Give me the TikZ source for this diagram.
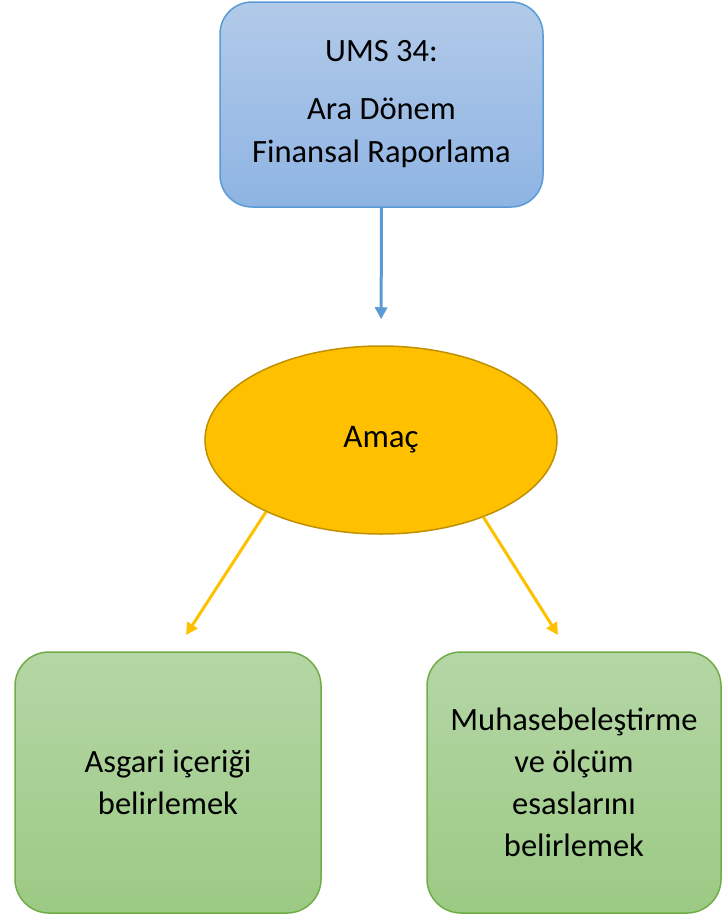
\documentclass[tikz,border=0pt]{standalone}
\usepackage{fontspec}
\setmainfont{Carlito}
\usetikzlibrary{shapes.geometric,arrows.meta}
\definecolor{blueline}{HTML}{5B9BD5}
\definecolor{bluetop}{HTML}{B2CAE9}
\definecolor{bluebot}{HTML}{8EB4E3}
\definecolor{goldfill}{HTML}{FFC000}
\definecolor{goldline}{HTML}{BF9000}
\definecolor{greenline}{HTML}{70AD47}
\definecolor{greentop}{HTML}{B5D6A6}
\definecolor{greenbot}{HTML}{9BCA84}
\tikzset{
  topbox/.style = {rectangle, rounded corners=32pt, draw=blueline,
                   line width=1.5pt, top color=bluetop, bottom color=bluebot,
                   minimum width=323pt, minimum height=205pt,
                   inner sep=0pt, align=center,
                   font=\fontsize{32.5}{43}\selectfont},
  goalnode/.style = {ellipse, draw=goldline, line width=1.5pt, fill=goldfill,
                     minimum width=352pt, minimum height=188pt,
                     inner sep=0pt, font=\fontsize{33}{39}\selectfont},
  leafbox/.style = {rectangle, rounded corners=34pt, draw=greenline,
                    line width=1.5pt, top color=greentop, bottom color=greenbot,
                    minimum width=#1, minimum height=261pt,
                    inner sep=0pt, align=center,
                    font=\fontsize{32.5}{42}\selectfont},
  leafbox/.default = 306pt,
  barrow/.style = {draw=blueline, line width=3pt,
                   -{Triangle[width=12pt,length=12pt]}},
  yarrow/.style = {draw=goldfill, line width=3pt,
                   -{Triangle[width=12pt,length=12pt]}}
}

\begin{document}
\begin{tikzpicture}[x=1pt,y=-1pt]
	\useasboundingbox (0,0) rectangle (722,914);

	% Standard
	\node[topbox] (ums) at (381.5,104.5) {UMS 34:\\[15pt] Ara Dönem\\ Finansal Raporlama};

	% Purpose
	\node[goalnode] (amac) at (381,440) {Amaç};

	% Objectives
	\node[leafbox] (asgari) at (168,782.5) {Asgari içeriği\\ belirlemek};
	\node[leafbox=294pt] (olcum) at (574,782.5) {Muhasebeleştirme\\ ve ölçüm\\ esaslarını\\ belirlemek};

	% Arrow ends
	\coordinate (tipL) at (186,635);
	\coordinate (tipR) at (558,635);

	% Arrows
	\draw[barrow, shorten >=26pt] (ums.south) -- (amac.north);
	\draw[yarrow] (amac.212) -- (tipL);
	\draw[yarrow] (amac.323) -- (tipR);

\end{tikzpicture}
\end{document}
